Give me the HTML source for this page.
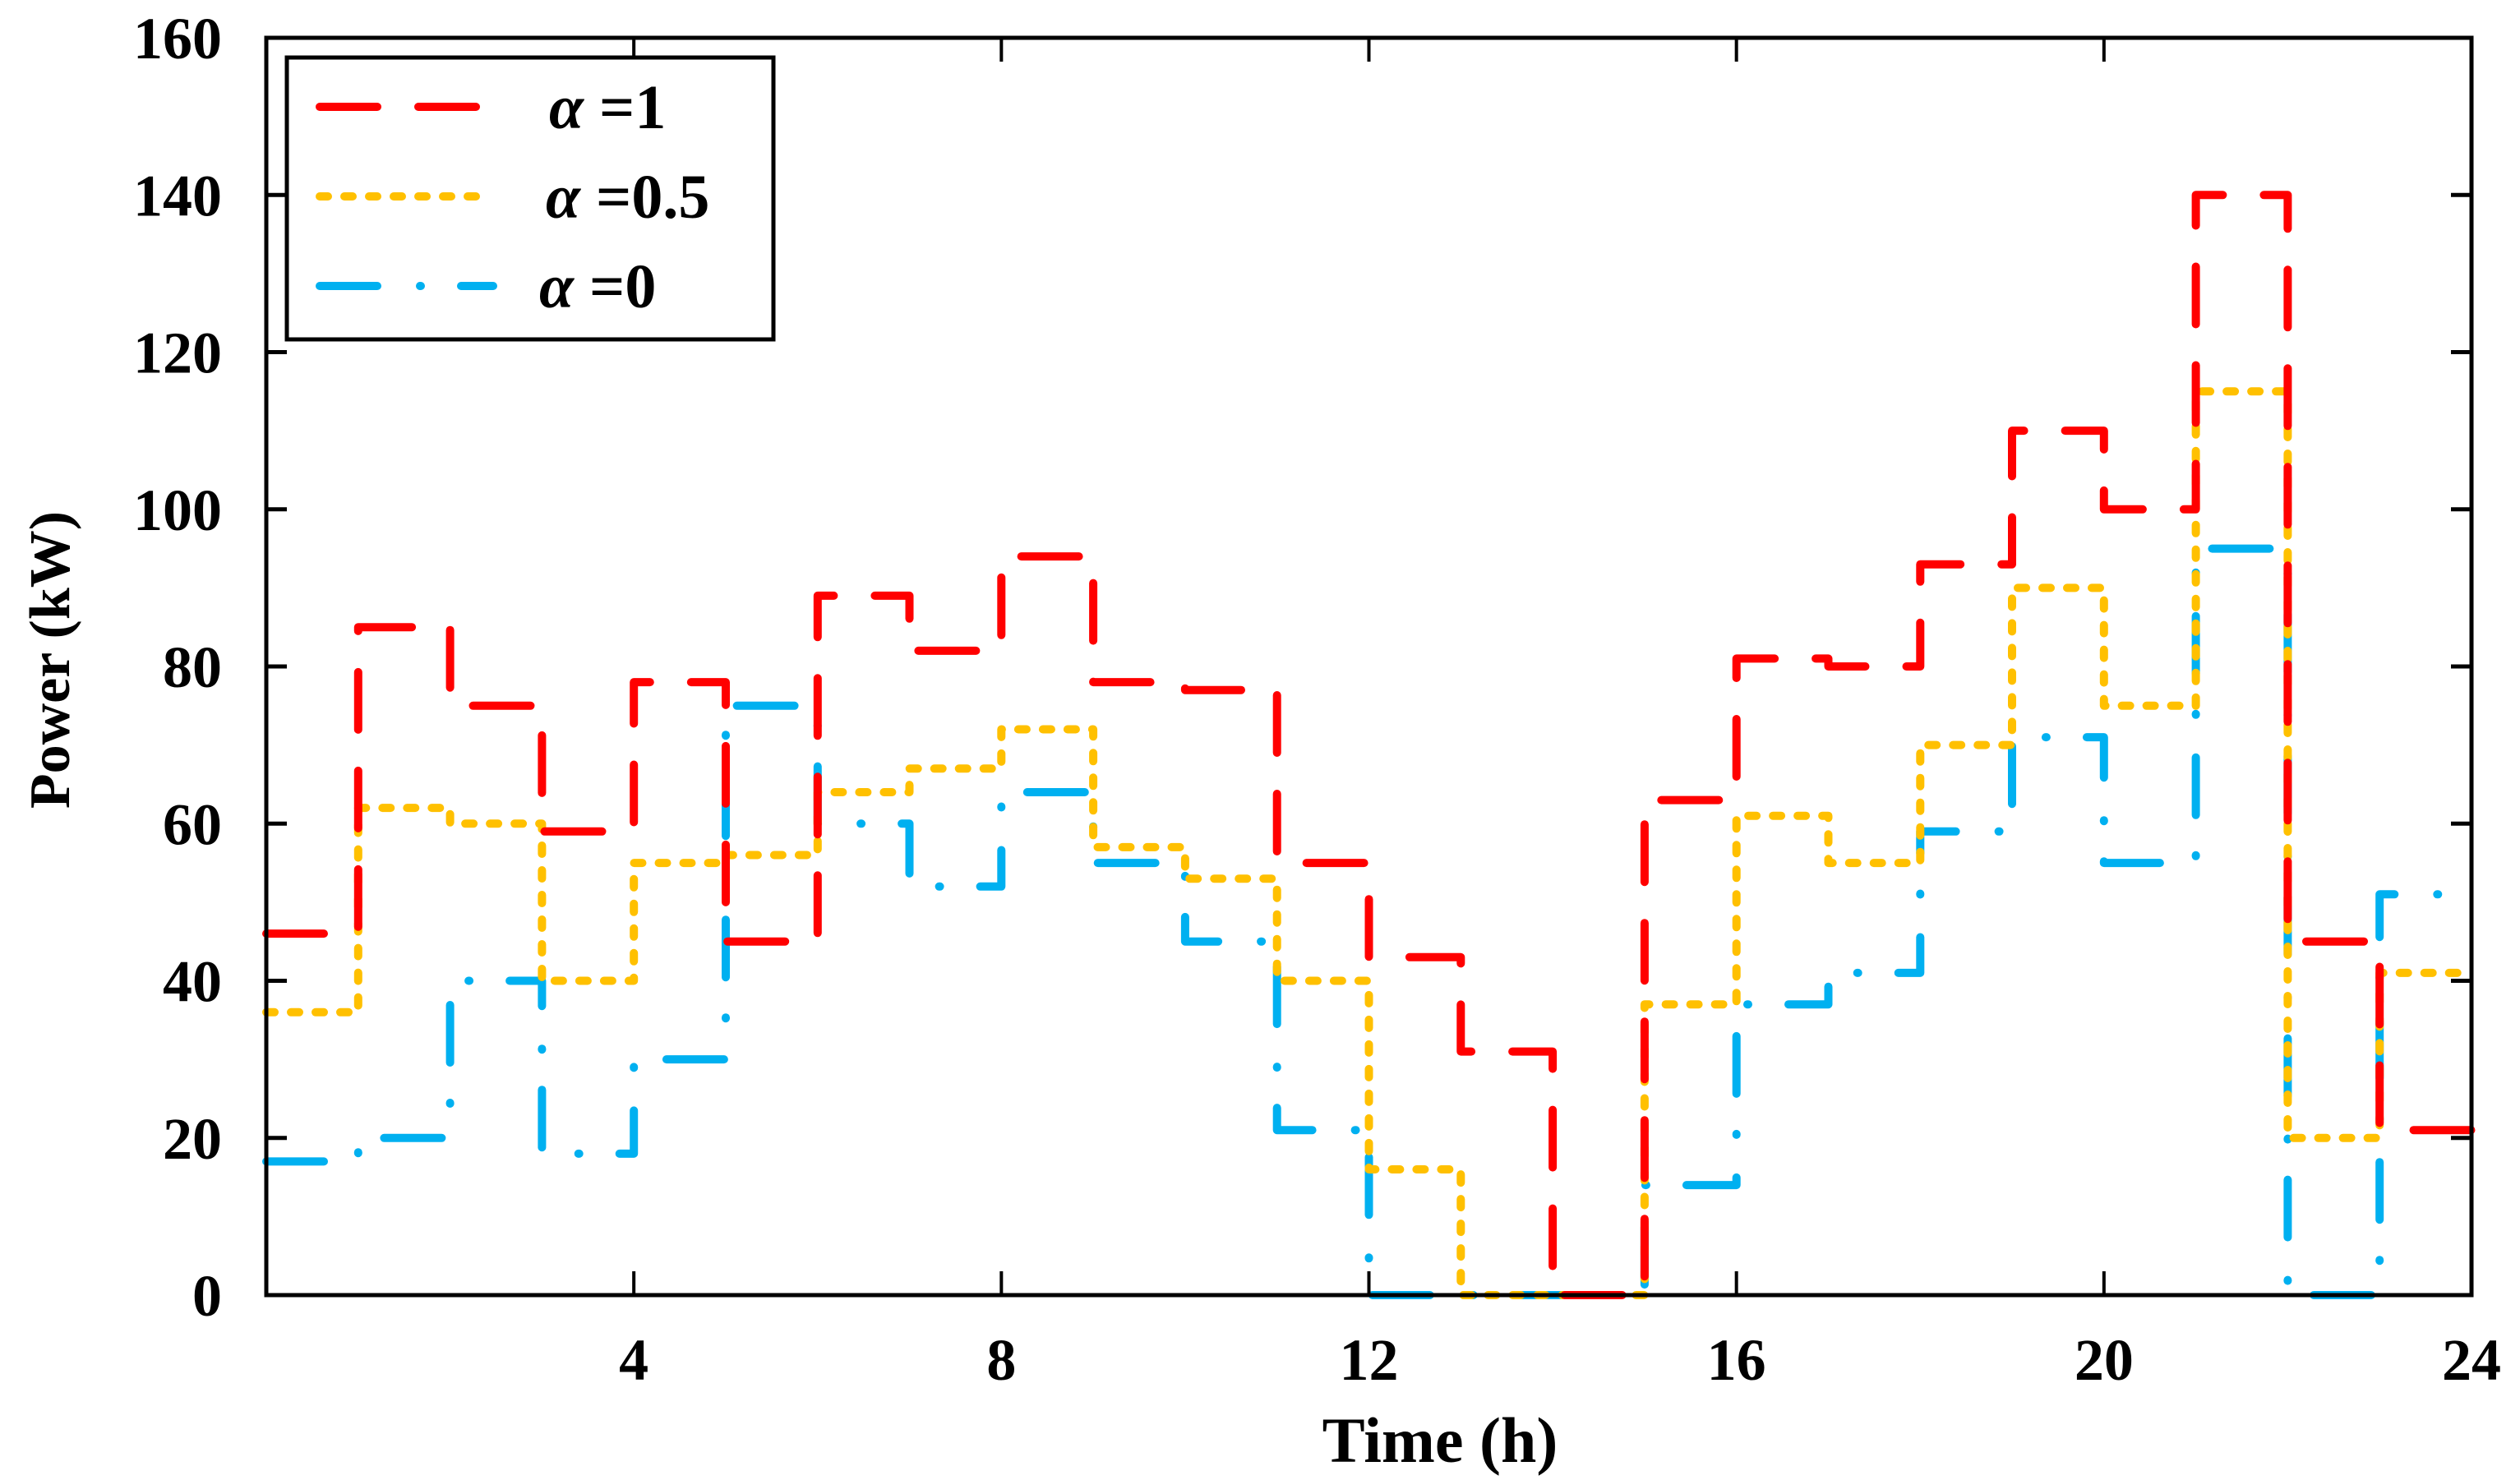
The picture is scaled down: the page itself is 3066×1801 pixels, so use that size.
<!DOCTYPE html>
<html><head><meta charset="utf-8"><style>
html,body{margin:0;padding:0;background:#fff;}
svg{display:block;}
text{font-family:"Liberation Serif",serif;font-weight:bold;fill:#000;}
</style></head><body>
<svg id="chart" width="3066" height="1801" viewBox="0 0 3066 1801" xmlns="http://www.w3.org/2000/svg">
<g id="series"></g>
<g id="axes"></g>
<g id="legend">
  <rect x="349" y="70" width="592" height="343" fill="#fff" stroke="#000" stroke-width="5"/>
  <line x1="389" y1="130" x2="584" y2="130" stroke="#ff0000" stroke-width="10" stroke-linecap="round" stroke-dasharray="70 50"/>
  <text x="668" y="156" font-size="76"><tspan font-style="italic">α</tspan> =1</text>
  <line x1="389" y1="239" x2="584" y2="239" stroke="#ffc000" stroke-width="10" stroke-linecap="round" stroke-dasharray="10 20"/>
  <text x="664" y="265" font-size="76"><tspan font-style="italic">α</tspan> =0.5</text>
  <line x1="389" y1="348" x2="600" y2="348" stroke="#00b0f0" stroke-width="10" stroke-linecap="round" stroke-dasharray="70 52 1 49"/>
  <text x="656" y="374" font-size="76"><tspan font-style="italic">α</tspan> =0</text>
</g>
<text x="1752" y="1779" font-size="78" text-anchor="middle">Time (h)</text>
<text x="0" y="0" font-size="70" text-anchor="middle" transform="translate(84,803) rotate(-90)">Power (kW)</text>
</svg>
<script>
const hours = [0,1,2,3,4,5,6,7,8,9,10,11,12,13,14,15,16,17,18,19,20,21,22,23];
const alpha1 = [46,85,75,59,78,45,89,82,94,78,77,55,43,31,0,63,81,80,93,110,100,140,45,21];
const alpha05 = [36,62,60,40,55,56,64,67,72,57,53,40,16,0,0,37,61,55,70,90,75,115,20,41];
const alpha0 = [17,20,40,18,30,75,60,52,64,55,45,21,0,0,0,14,37,41,59,71,55,95,0,51];
const xTicks = [4,8,12,16,20,24];
const yTicks = [0,20,40,60,80,100,120,140,160];

const NS = 'http://www.w3.org/2000/svg';
const L = 324, R = 3007, T = 46, B = 1576;
const xMin = 0, xMax = 24, yMin = 0, yMax = 160;
function xs(v){ return L + (v - xMin) / (xMax - xMin) * (R - L); }
function ys(v){ return B - (v - yMin) / (yMax - yMin) * (B - T); }

function stepPath(vals){
  let d = '';
  vals.forEach((v,i)=>{
    const x0 = xs(hours[i]), x1 = xs(hours[i] + 1), y = ys(v);
    d += (i === 0 ? 'M' : 'L') + x0.toFixed(1) + ',' + y.toFixed(1) + 'L' + x1.toFixed(1) + ',' + y.toFixed(1);
  });
  return d;
}
const sg = document.getElementById('series');
function addSeries(vals, color, dash, name){
  const p = document.createElementNS(NS, 'path');
  p.setAttribute('d', stepPath(vals));
  p.setAttribute('fill', 'none');
  p.setAttribute('stroke', color);
  p.setAttribute('stroke-width', '10');
  p.setAttribute('stroke-linecap', 'round');
  p.setAttribute('stroke-linejoin', 'round');
  p.setAttribute('stroke-dasharray', dash);
  
  
  sg.appendChild(p);
}
addSeries(alpha0, '#00b0f0', '70 52 1 49', 'series-alpha-0');
addSeries(alpha05, '#ffc000', '10 20', 'series-alpha-0.5');
addSeries(alpha1, '#ff0000', '70 50', 'series-alpha-1');

const ag = document.getElementById('axes');
function mk(tag, attrs){
  const e = document.createElementNS(NS, tag);
  for (const k in attrs) e.setAttribute(k, attrs[k]);
  return e;
}
const frame = mk('rect', {x:L, y:T, width:R-L, height:B-T, fill:'none', stroke:'#000', 'stroke-width':'5'});


ag.appendChild(frame);
yTicks.forEach(v=>{
  const y = ys(v);
  const t1 = mk('line', {x1:L, y1:y, x2:L+25, y2:y, stroke:'#000', 'stroke-width':'5'});
  
  
  ag.appendChild(t1);
  const t2 = mk('line', {x1:R, y1:y, x2:R-25, y2:y, stroke:'#000', 'stroke-width':'5'});
  
  
  ag.appendChild(t2);
  const lb = mk('text', {x:270, y:y+25, 'font-size':'72', 'text-anchor':'end'});
  lb.textContent = v;
  
  
  ag.appendChild(lb);
});
xTicks.forEach(v=>{
  const x = xs(v);
  const t1 = mk('line', {x1:x, y1:B, x2:x, y2:B-29, stroke:'#000', 'stroke-width':'4'});
  
  
  ag.appendChild(t1);
  const t2 = mk('line', {x1:x, y1:T, x2:x, y2:T+29, stroke:'#000', 'stroke-width':'4'});
  
  
  ag.appendChild(t2);
  const lb = mk('text', {x:x, y:1679, 'font-size':'72', 'text-anchor':'middle'});
  lb.textContent = v;
  
  
  ag.appendChild(lb);
});
</script>
</body></html>
